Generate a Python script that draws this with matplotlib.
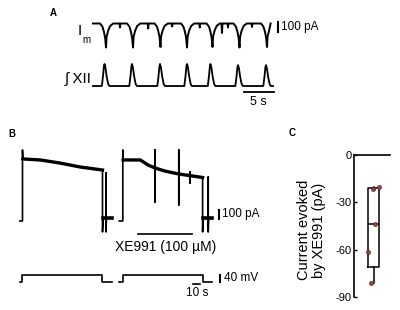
import numpy as np
import matplotlib
matplotlib.use('Agg')
from matplotlib import pyplot as plt

plt.rcParams['font.family'] = ['Liberation Sans', 'DejaVu Sans']
plt.rcParams['axes.unicode_minus'] = False

W, H = 400, 310

# ---- panel A: membrane current and XII bursts (time in s) ----
burst_t = [2.17, 6.67, 11.25, 15.67, 19.92, 24.42, 29.0]
im_depth = [-240, -240, -235, -240, -235, -240, -235]          # pA
im_shape_dt = [-1.0, -0.6, -0.35, -0.15, 0.0, 0.1, 0.35, 0.7, 1.2]
im_shape_frac = [0, 0.13, 0.34, 0.6, 1.0, 0.55, 0.3, 0.1, 0]
im_noise_t = [4.5, 9.2, 13.2, 17.8, 21.5, 22.5, 26.5]
im_noise_v = [-40, -50, -30, -40, -95, -40, -35]
im_end = 29.6

xii_t = [1.92, 6.5, 11.17, 15.67, 19.58, 24.17, 28.83]
xii_amp = [1.0, 1.0, 1.0, 1.0, 1.0, 0.95, 0.95]
xii_shape_dt = [-0.45, -0.25, -0.1, 0.0, 0.15, 0.35, 0.6, 0.8]
xii_shape_frac = [0, 0.45, 0.9, 1.0, 0.85, 0.45, 0.1, 0]
xii_end = 30.0

# ---- panel B: current (pA) and voltage (mV) vs time (s) ----
sw1_t = [7, 10.7, 10.7, 11.2, 36, 64, 93, 125, 125, 126, 130, 130, 130, 130.6, 139]
sw1_i = [-22, -22, 767, 667, 656, 622, 578, 544, -144, 8, 8, 511, -144, 8, 8]
sw2_t = [149, 154, 154, 154.5, 179, 190, 200, 200, 200, 200, 214, 234, 234, 234, 234,
         250, 250, 250, 250, 268, 268, 269, 276, 276, 276, 276.6, 281]
sw2_i = [-22, -22, 767, 656, 656, 600, 567, 767, 189, 567, 533, 500, 767, 156, 500,
         482, 522, 400, 482, 461, -144, 8, 8, 467, -144, 8, 8]
pl1_t = [11.2, 36, 64, 93, 125]
pl1_i = [667, 656, 622, 578, 544]
pl2_t = [154.5, 179, 190, 200, 214, 234, 250, 268]
pl2_i = [656, 656, 600, 567, 533, 500, 482, 461]
tail1_t = [125.5, 139]
tail2_t = [268.5, 281]
tail_i = [8, 8]

v1_t = [7, 10.7, 10.7, 125, 125, 139]
v2_t = [149, 154, 154, 268, 268, 282]
v_cmd = [-60, -60, -20, -20, -60, -60]
xe991_on, xe991_off = 176, 253

# ---- panel C ----
xe_current = [-20, -21.5, -43.5, -61.5, -81]
xe_jitter = [0.68, 0.53, 0.59, 0.38, 0.47]


def trace_axes(box, t0_px, px_per_s, v0_px, px_per_unit):
    x0, y0, x1, y1 = box
    ax = fig.add_axes([x0 / W, 1 - y1 / H, (x1 - x0) / W, (y1 - y0) / H])
    ax.set_xlim((x0 - t0_px) / px_per_s, (x1 - t0_px) / px_per_s)
    ax.set_ylim((v0_px - y1) / px_per_unit, (v0_px - y0) / px_per_unit)
    ax.axis('off')
    return ax


def build(times, amps, dts, fracs, extra, end):
    pts = [(0, 0), (end, 0)] + extra
    for t, a in zip(times, amps):
        pts += [(t + dt, a * f) for dt, f in zip(dts, fracs)]
    pts = sorted(p for p in pts if p[0] <= end)
    return [p[0] for p in pts], [p[1] for p in pts]


fig = plt.figure(figsize=(W / 100, H / 100), dpi=100)

# A
ax_im = trace_axes((90, 15, 335, 55), 93, 6, 23.5, 0.1)
noise = []
for t, v in zip(im_noise_t, im_noise_v):
    noise += [(t - 0.08, 0), (t, v), (t + 0.08, 0)]
t, v = build(burst_t, im_depth, im_shape_dt, im_shape_frac, noise, im_end)
ax_im.plot(t, v, color='black', lw=1.4)
ax_im.plot([30.8, 30.8], [15, -85], color='black', lw=1.5)
ax_im.text(31.4, -35, '100 pA', fontsize=8.5, va='center', ha='left')

ax_xii = trace_axes((90, 58, 335, 105), 93, 6, 86, 22)
t, v = build(xii_t, xii_amp, xii_shape_dt, xii_shape_frac, [], xii_end)
ax_xii.plot(t, v, color='black', lw=1.3)
ax_xii.plot([25.2, 30.2], [-0.27, -0.27], color='black', lw=1.3)
ax_xii.text(27.6, -0.75, '5 s', fontsize=9, ha='center', va='center')

fig.text(80 / W, 1 - 31 / H, 'I', fontsize=11, ha='center', va='center')
fig.text(86 / W, 1 - 40 / H, 'm', fontsize=7, ha='center', va='center')
fig.text(92 / W, 1 - 79 / H, '\u222b XII', fontsize=11, ha='right', va='center')

# B
ax_i = trace_axes((10, 140, 240, 255), 15, 0.7, 219, 0.09)
ax_i.plot(sw1_t, sw1_i, color='black', lw=1.2)
ax_i.plot(sw2_t, sw2_i, color='black', lw=1.2)
ax_i.plot(pl1_t, pl1_i, color='black', lw=2.4)
ax_i.plot(pl2_t, pl2_i, color='black', lw=2.4)
ax_i.plot(tail1_t, tail_i, color='black', lw=2.6)
ax_i.plot(tail2_t, tail_i, color='black', lw=2.6)
ax_i.plot([xe991_on, xe991_off], [-167, -167], color='black', lw=1.2)
ax_i.text((xe991_on + xe991_off) / 2, -311, 'XE991 (100 \u00b5M)', fontsize=10,
          ha='center', va='center')
ax_i.plot([291, 291], [0, 100], color='black', lw=1.5)
ax_i.text(296, 55, '100 pA', fontsize=8.5, va='center', ha='left')

ax_v = trace_axes((10, 255, 240, 295), 15, 0.7, 271, 0.175)
ax_v.plot(v1_t, v_cmd, color='black', lw=1.2)
ax_v.plot(v2_t, v_cmd, color='black', lw=1.2)
ax_v.plot([293, 293], [-60, -20], color='black', lw=1.5)
ax_v.text(298, -40, '40 mV', fontsize=8.5, va='center', ha='left')
ax_v.plot([254, 264], [-72, -72], color='black', lw=1.2)
ax_v.text(260, -128, '10 s', fontsize=8.5, ha='center', va='center')

# C
x0, y0, x1, y1 = 354.3, 155, 390, 297
ax_c = fig.add_axes([x0 / W, 1 - y1 / H, (x1 - x0) / W, (y1 - y0) / H])
q1, med, q3 = np.percentile(xe_current, [25, 50, 75], method='weibull')
stats = [dict(med=med, q1=q1, q3=q3, whislo=min(xe_current), whishi=max(xe_current),
              fliers=[])]
ax_c.bxp(stats, positions=[0.54], widths=0.32, showcaps=False, showfliers=False,
         boxprops=dict(color='black', lw=1.1),
         whiskerprops=dict(color='black', lw=1.1),
         medianprops=dict(color='black', lw=1.1))
ax_c.scatter(xe_jitter, xe_current, s=8, color='#a04545', edgecolor='#502020',
             linewidth=0.5, zorder=3)
ax_c.set_xlim(0, 1)
ax_c.set_ylim(-90, 0)
ax_c.set_yticks([0, -30, -60, -90])
ax_c.set_xticks([])
ax_c.tick_params(axis='y', direction='in', length=2.5, width=1, pad=2, labelsize=8)
for s in ['right', 'bottom']:
    ax_c.spines[s].set_visible(False)
for s in ['left', 'top']:
    ax_c.spines[s].set_linewidth(1.2)
ax_c.set_ylabel('Current evoked\nby XE991 (pA)', fontsize=10.5, linespacing=1.05)
ax_c.yaxis.set_label_coords(-0.80, 0.47)

fig.text(53 / W, 1 - 13 / H, 'A', fontsize=7, fontweight='bold', ha='center', va='center')
fig.text(12 / W, 1 - 134 / H, 'B', fontsize=7, fontweight='bold', ha='center', va='center')
fig.text(292 / W, 1 - 133 / H, 'C', fontsize=7, fontweight='bold', ha='center', va='center')

fig.savefig('out.png', dpi=100)
